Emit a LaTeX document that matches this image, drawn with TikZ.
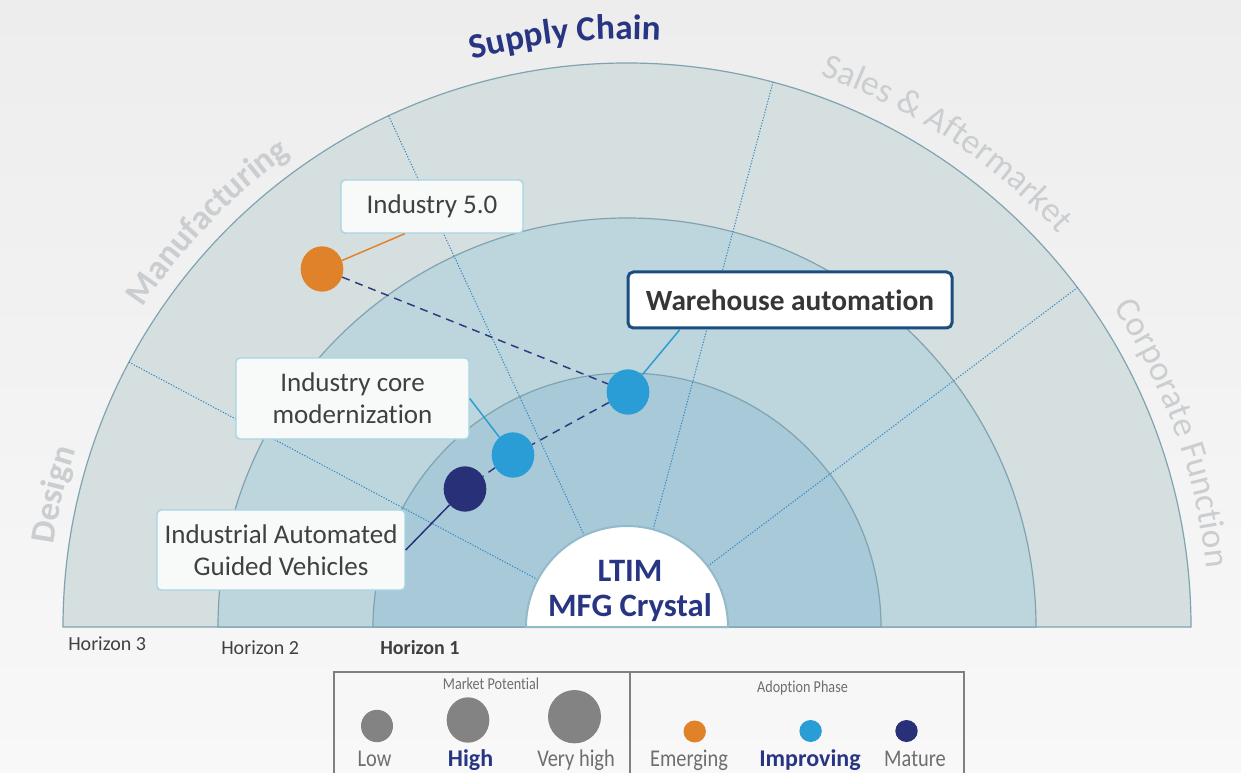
\documentclass[tikz,border=0pt]{standalone}
\usepackage{fontspec}
\setmainfont{Carlito}[Ligatures=NoCommon]
\newfontfamily\legendfont[FakeStretch=0.85,Ligatures=NoCommon]{Carlito}
\usetikzlibrary{shapes.geometric,decorations.text}

\definecolor{bgtop}{HTML}{EDEDED}
\definecolor{bgbot}{HTML}{F8F8F8}
\definecolor{horizonthree}{HTML}{D5DFDF}
\definecolor{horizontwo}{HTML}{BDD5DC}
\definecolor{horizonone}{HTML}{A7C9D8}
\definecolor{ringedge}{HTML}{7FA3B1}
\definecolor{coreedge}{HTML}{93BACA}
\definecolor{dividerblue}{HTML}{2F86C6}
\definecolor{sectorgray}{HTML}{CBCED0}
\definecolor{navytext}{HTML}{283583}
\definecolor{emerging}{HTML}{E08229}
\definecolor{improving}{HTML}{2A9CD6}
\definecolor{mature}{HTML}{283078}
\definecolor{chainnavy}{HTML}{2E3A7E}
\definecolor{calloutedge}{HTML}{A6D5E3}
\definecolor{calloutfill}{HTML}{F8FAFA}
\definecolor{boxtext}{HTML}{404040}
\definecolor{whedge}{HTML}{1B4E80}
\definecolor{potentialgray}{HTML}{838383}
\definecolor{legendtext}{HTML}{6E6E6E}
\definecolor{frame}{HTML}{808080}

\newcommand\sectorbold{\fontsize{26}{26}\selectfont\bfseries\color{sectorgray}}
\newcommand\sectorplain{\fontsize{26.5}{26.5}\selectfont\color{sectorgray}}
\newcommand\supplystyle{\fontsize{26.5}{26.5}\selectfont\bfseries\color{navytext}}

\tikzset{
  ring/.style={draw=ringedge, line width=0.9pt},
  divider/.style={draw=dividerblue, line width=0.75pt, dash pattern=on 0.9pt off 1.2pt},
  bubble/.style={ellipse, inner sep=0pt, minimum width=32pt, minimum height=34pt},
  callout/.style={draw=calloutedge, fill=calloutfill, line width=1.1pt, rounded corners=3pt,
    text=boxtext, font=\fontsize{20.25}{24}\selectfont, align=center, inner sep=0pt},
  leader/.style={line width=1.1pt},
  chain/.style={draw=chainnavy, line width=1.1pt, dash pattern=on 6pt off 4.5pt},
  horizonlabel/.style={anchor=base west, inner sep=0pt, text=boxtext, font=\fontsize{15}{15}\selectfont},
  legendtitle/.style={anchor=base, inner sep=0pt, text=legendtext, font=\legendfont\fontsize{12.5}{12.5}\selectfont},
  legendword/.style={anchor=base, inner sep=0pt, text=legendtext, font=\legendfont\fontsize{18}{18}\selectfont},
  legendbold/.style={anchor=base, inner sep=0pt, text=navytext, font=\bfseries\fontsize{18}{18}\selectfont},
  dot/.style={ellipse, inner sep=0pt, minimum width=16.8pt, minimum height=16.5pt},
}

\begin{document}
\begin{tikzpicture}[x=0.75pt,y=0.75pt,yscale=-1,xscale=1]
\useasboundingbox (0,0) rectangle (1241,773);

% background
\shade[top color=bgtop, bottom color=bgbot] (0,0) rectangle (1241,773);

% horizon rings, centred on the crystal
\begin{scope}[shift={(627,627)}]
\filldraw[ring, fill=horizonthree] (-564,0) arc[start angle=180, end angle=360, radius=564] -- cycle;
\filldraw[ring, fill=horizontwo] (-409,0) arc[start angle=180, end angle=360, radius=409] -- cycle;
\filldraw[ring, fill=horizonone] (-254,0) arc[start angle=180, end angle=360, radius=254] -- cycle;

% sector dividers
\foreach \a in {208,245,285,323}
  \draw[divider] (\a:101) -- (\a:564);

% crystal
\filldraw[draw=coreedge, line width=1.5pt, fill=white] (-101,0) arc[start angle=180, end angle=360, radius=101] -- cycle;

% sector labels along the outer arc
\path[decorate, decoration={text along path, text align=center, text={|\sectorbold|Design}}]
  (168:579) arc[start angle=168, end angle=218, radius=579];
\path[decorate, decoration={text along path, text align=center, text={|\sectorbold|Manufacturing}}]
  (199:580) arc[start angle=199, end angle=249, radius=580];
\path[decorate, decoration={text along path, text align=center, text={|\supplystyle|Supply Chain}}]
  (239:588) arc[start angle=239, end angle=289, radius=588];
\path[decorate, decoration={text along path, text align=center, text={|\sectorplain|Sales {\&} Aftermarket}}]
  (276:584) arc[start angle=276, end angle=331, radius=584];
\path[decorate, decoration={text along path, text align=center, text={|\sectorplain|Corporate Function}}]
  (313:582) arc[start angle=313, end angle=368, radius=582];
\end{scope}

% Text Node
\node[inner sep=0pt, align=center, text=navytext, font=\bfseries\fontsize{24.5}{26.25}\selectfont] (crystal) at (630,591) {LTIM\\MFG Crystal};

% horizon labels
\node[horizonlabel] (hthree) at (68,650.5) {Horizon 3};
\node[horizonlabel] (htwo) at (221,654) {Horizon 2};
\node[horizonlabel, font=\bfseries\fontsize{15}{15}\selectfont] (hone) at (380,654) {Horizon 1};

% bubbles
\node[bubble, fill=emerging] (ind5) at (322,269) {};
\node[bubble, fill=improving] (wh) at (628,392) {};
\node[bubble, fill=improving] (core) at (513,455) {};
\node[bubble, fill=mature] (agv) at (465,489) {};

% adoption path
\draw[chain] (ind5) -- (wh) -- (core) -- (agv);

% callouts
\node[callout, minimum width=136.5pt, minimum height=39.75pt] (ind5box) at (432,206.5) {Industry 5.0};
\node[callout, minimum width=174.75pt, minimum height=60.75pt] (corebox) at (352.5,398.5) {Industry core\\modernization};
\node[callout, minimum width=186pt, minimum height=60pt] (agvbox) at (281,550) {Industrial Automated\\Guided Vehicles};
\node[callout, draw=whedge, fill=white, line width=2.25pt, rounded corners=4pt, text=boxtext!85!black,
  font=\bfseries\fontsize{22}{22}\selectfont, minimum width=243pt, minimum height=42pt] (whbox) at (790,300) {Warehouse automation};

\draw[leader, emerging] (ind5box.225) -- (ind5);
\draw[leader, improving] (whbox.195) -- (wh);
\draw[leader, improving] (corebox.east) -- (core);
\draw[leader, mature] (agvbox.east) -- (agv);

% legend
\draw[frame, line width=1.1pt] (334,672) rectangle (964,800);
\draw[frame, line width=1.1pt] (630,672) -- (630,800);

% Text Node
\node[legendtitle] (mptitle) at (491,689) {Market Potential};
\node[ellipse, inner sep=0pt, fill=potentialgray, minimum width=24pt, minimum height=24.3pt] (low) at (377,726) {};
\node[ellipse, inner sep=0pt, fill=potentialgray, minimum width=32pt, minimum height=34pt] (high) at (468,720) {};
\node[ellipse, inner sep=0pt, fill=potentialgray, minimum width=39.75pt, minimum height=40pt] (veryhigh) at (574.5,716.7) {};
\node[legendword] (lowlabel) at (374.5,766) {Low};
\node[legendbold] (highlabel) at (470.5,766) {High};
\node[legendword] (veryhighlabel) at (576,766) {Very high};

% Text Node
\node[legendtitle] (aptitle) at (802.5,692) {Adoption Phase};
\node[dot, fill=emerging] (emdot) at (694.7,731.5) {};
\node[dot, fill=improving] (imdot) at (810.6,731) {};
\node[dot, fill=mature] (madot) at (906.5,731) {};
\node[legendword] (emlabel) at (689,766) {Emerging};
\node[legendbold] (imlabel) at (810,766) {Improving};
\node[legendword] (malabel) at (915,766) {Mature};

\end{tikzpicture}
\end{document}
